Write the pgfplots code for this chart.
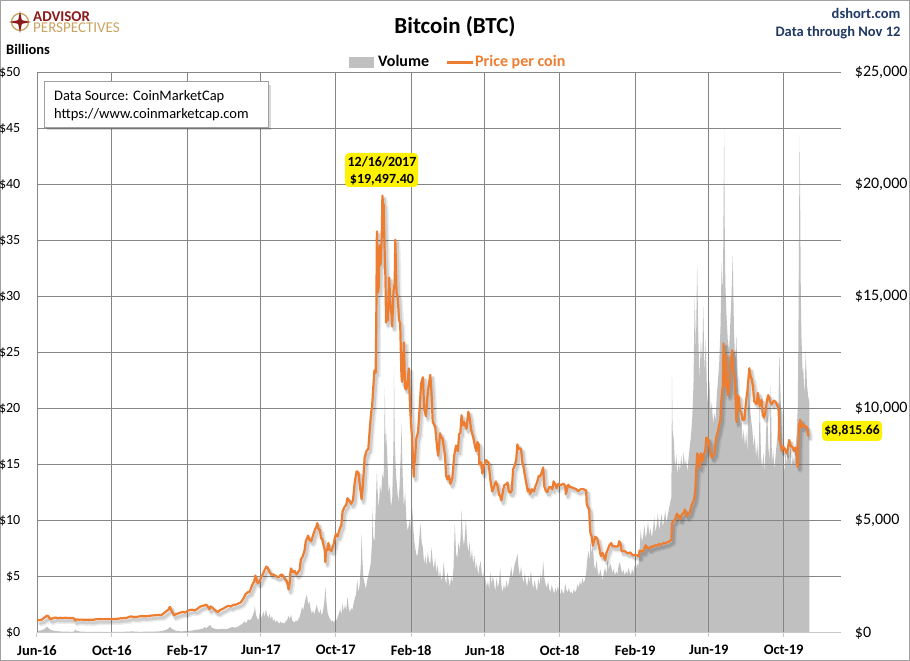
\documentclass[border=0pt]{standalone}
\usepackage{fontspec}
\setmainfont{Carlito}
\usepackage{pgfplots}
\usepackage{pgfplotstable}
\pgfplotsset{compat=1.18}
\definecolor{btcorange}{HTML}{ED7D31}
\definecolor{volgray}{HTML}{C0C0C0}
\definecolor{gridgray}{HTML}{868686}
\definecolor{axgray}{HTML}{C8C8C8}
\definecolor{navy}{HTML}{1F3864}
\definecolor{logored}{HTML}{8B1A1A}
\definecolor{loggold}{HTML}{C8A45E}
\definecolor{framegray}{HTML}{A0A0A0}

\pgfplotstableread[row sep=\\]{
d v\\
0 0.15\\ 6 0.2\\ 11 0.3\\ 14 0.4\\ 16 0.55\\ 18 0.45\\ 21 0.3\\ 25 0.2\\ 30 0.15\\ 36 0.12\\ 42 0.1\\ 50 0.09\\ 58 0.08\\ 61 0.12\\ 62 0.3\\ 64 0.18\\ 70 0.1\\ 80 0.08\\ 90 0.07\\ 100 0.07\\ 110 0.07\\ 120 0.06\\ 130 0.07\\ 140 0.08\\ 150 0.1\\ 155 0.12\\ 160 0.09\\ 170 0.08\\ 180 0.1\\ 190 0.1\\ 200 0.12\\ 206 0.18\\ 210 0.25\\ 214 0.35\\ 216 0.5\\ 218 0.45\\ 220 0.35\\ 223 0.25\\ 228 0.15\\ 235 0.12\\ 245 0.15\\ 252 0.18\\ 258 0.25\\ 265 0.3\\ 270 0.35\\ 273 0.5\\ 276 0.4\\ 280 0.6\\ 282 0.7\\ 285 0.45\\ 290 0.35\\ 296 0.3\\ 302 0.35\\ 308 0.3\\ 313 0.4\\ 318 0.5\\ 323 0.45\\ 328 0.55\\ 332 0.7\\ 335 0.8\\ 338 1.0\\ 341 0.85\\ 344 1.2\\ 347 1.1\\ 350 1.3\\ 352 1.6\\ 354 1.9\\ 355 2.4\\ 357 1.6\\ 359 1.3\\ 361 1.1\\ 363 1.8\\ 365 1.3\\ 367 1.5\\ 369 1.9\\ 371 1.4\\ 373 2.1\\ 375 1.6\\ 377 1.3\\ 379 1.7\\ 381 1.2\\ 383 1.5\\ 385 1.0\\ 387 1.2\\ 389 0.9\\ 391 1.1\\ 393 0.9\\ 395 0.8\\ 397 1.0\\ 399 0.85\\ 401 0.9\\ 403 0.8\\ 405 1.0\\ 407 1.1\\ 409 1.3\\ 410 1.5\\ 412 1.2\\ 414 1.6\\ 416 1.1\\ 418 1.0\\ 420 0.9\\ 422 1.1\\ 424 1.0\\ 426 1.2\\ 428 1.4\\ 430 1.8\\ 432 2.3\\ 434 2.0\\ 436 2.6\\ 438 3.1\\ 440 3.4\\ 442 2.5\\ 444 2.8\\ 446 2.1\\ 448 1.7\\ 450 2.0\\ 452 1.6\\ 454 2.1\\ 456 2.5\\ 458 2.0\\ 460 1.7\\ 462 2.1\\ 464 1.5\\ 466 1.9\\ 468 2.6\\ 469 3.2\\ 470 4.1\\ 472 2.6\\ 474 1.7\\ 476 1.4\\ 478 1.2\\ 480 1.0\\ 482 1.1\\ 484 0.9\\ 486 1.2\\ 488 1.1\\ 490 1.4\\ 492 1.7\\ 494 2.1\\ 496 1.6\\ 498 2.6\\ 500 1.9\\ 502 2.5\\ 504 2.0\\ 506 3.2\\ 508 2.3\\ 510 1.8\\ 512 2.2\\ 514 2.0\\ 516 2.6\\ 518 3.1\\ 520 3.4\\ 522 4.7\\ 524 3.6\\ 526 4.3\\ 528 6.3\\ 529 8.9\\ 530 7.0\\ 532 4.9\\ 534 4.4\\ 536 3.9\\ 538 4.6\\ 540 5.1\\ 542 5.6\\ 544 6.2\\ 546 8.0\\ 547 11.2\\ 548 8.6\\ 550 8.1\\ 552 11.0\\ 554 14.5\\ 555 12.8\\ 557 11.0\\ 559 13.2\\ 561 12.4\\ 563 14.2\\ 565 13.6\\ 567 21.9\\ 568 16.2\\ 569 18.0\\ 571 15.7\\ 573 12.5\\ 575 13.1\\ 577 11.2\\ 579 12.0\\ 581 16.5\\ 582 23.7\\ 583 17.2\\ 585 14.3\\ 587 12.9\\ 589 11.6\\ 591 13.1\\ 593 16.1\\ 594 18.7\\ 596 14.1\\ 598 11.2\\ 600 12.6\\ 602 10.1\\ 604 9.1\\ 606 9.6\\ 608 10.2\\ 610 8.6\\ 612 11.2\\ 613 9.6\\ 615 8.1\\ 617 7.4\\ 619 6.8\\ 621 7.1\\ 623 8.3\\ 625 9.8\\ 627 8.1\\ 629 7.6\\ 631 6.1\\ 633 6.9\\ 635 5.9\\ 637 7.2\\ 639 6.4\\ 641 6.1\\ 643 7.6\\ 645 6.3\\ 647 5.7\\ 649 6.7\\ 651 5.3\\ 653 6.1\\ 655 4.8\\ 657 5.6\\ 659 4.6\\ 661 5.1\\ 663 6.3\\ 665 4.9\\ 667 4.3\\ 669 5.4\\ 671 4.7\\ 673 4.1\\ 675 5.1\\ 677 4.4\\ 679 5.9\\ 681 9.8\\ 683 7.1\\ 685 6.6\\ 687 8.1\\ 689 7.3\\ 691 9.1\\ 692 11.0\\ 694 8.6\\ 696 7.7\\ 698 9.1\\ 699 10.2\\ 701 8.2\\ 703 7.1\\ 705 8.1\\ 707 6.5\\ 709 7.4\\ 711 6.1\\ 713 6.9\\ 715 5.6\\ 717 6.3\\ 719 5.1\\ 721 5.9\\ 723 6.4\\ 725 5.3\\ 727 4.9\\ 729 5.7\\ 731 4.7\\ 733 4.1\\ 735 4.6\\ 737 3.9\\ 739 5.4\\ 741 4.3\\ 743 5.1\\ 745 4.4\\ 747 3.7\\ 749 4.9\\ 751 4.0\\ 753 4.5\\ 755 5.7\\ 757 4.2\\ 759 3.6\\ 761 4.3\\ 763 3.8\\ 765 4.7\\ 767 4.0\\ 769 4.5\\ 771 5.1\\ 773 5.9\\ 775 4.9\\ 777 5.6\\ 779 6.2\\ 781 6.5\\ 783 7.1\\ 785 5.8\\ 787 5.1\\ 789 5.9\\ 791 5.0\\ 793 4.4\\ 795 5.3\\ 797 4.6\\ 799 4.1\\ 801 5.0\\ 803 4.4\\ 805 5.5\\ 807 4.5\\ 809 3.9\\ 811 4.7\\ 813 4.1\\ 815 3.7\\ 817 4.8\\ 819 4.2\\ 821 5.3\\ 823 4.6\\ 825 6.4\\ 827 4.9\\ 829 4.3\\ 831 4.0\\ 833 4.6\\ 835 3.9\\ 837 3.6\\ 839 4.3\\ 841 3.8\\ 843 3.5\\ 845 4.0\\ 847 3.6\\ 849 4.2\\ 851 3.7\\ 853 3.4\\ 855 3.9\\ 857 3.6\\ 859 3.5\\ 861 4.4\\ 863 3.8\\ 865 3.6\\ 867 4.0\\ 869 3.5\\ 871 3.7\\ 873 3.4\\ 875 3.9\\ 877 3.6\\ 879 3.8\\ 881 4.3\\ 883 4.0\\ 885 4.6\\ 887 4.2\\ 889 4.9\\ 891 4.4\\ 893 4.7\\ 895 5.3\\ 897 6.6\\ 899 7.3\\ 901 6.4\\ 902 8.3\\ 904 7.1\\ 906 7.8\\ 908 6.1\\ 910 5.6\\ 912 6.5\\ 914 5.5\\ 916 5.0\\ 918 5.7\\ 920 5.1\\ 922 4.7\\ 924 5.4\\ 926 5.8\\ 928 5.2\\ 930 6.5\\ 932 5.6\\ 934 6.2\\ 936 5.9\\ 938 5.3\\ 940 5.7\\ 942 5.1\\ 944 5.5\\ 946 5.2\\ 948 6.0\\ 950 6.3\\ 952 5.7\\ 954 5.3\\ 956 5.6\\ 958 5.1\\ 960 5.5\\ 962 5.2\\ 964 5.8\\ 966 5.4\\ 968 5.1\\ 970 5.7\\ 972 5.3\\ 974 6.0\\ 976 5.5\\ 978 6.2\\ 980 5.9\\ 982 7.1\\ 984 9.2\\ 986 8.1\\ 988 8.6\\ 990 9.6\\ 992 8.4\\ 994 9.0\\ 996 9.9\\ 998 8.7\\ 1000 9.3\\ 1002 8.5\\ 1004 9.1\\ 1006 10.3\\ 1008 8.9\\ 1010 9.6\\ 1012 10.7\\ 1014 9.1\\ 1016 9.9\\ 1018 10.6\\ 1020 9.4\\ 1022 10.1\\ 1024 10.9\\ 1026 9.7\\ 1028 10.5\\ 1030 11.0\\ 1032 11.6\\ 1034 12.1\\ 1035 22.8\\ 1036 18.1\\ 1038 17.2\\ 1040 14.6\\ 1042 15.9\\ 1044 14.1\\ 1046 15.3\\ 1048 14.4\\ 1050 15.8\\ 1052 14.7\\ 1054 16.1\\ 1056 14.9\\ 1058 15.5\\ 1060 14.3\\ 1062 15.6\\ 1064 16.6\\ 1066 17.6\\ 1068 19.1\\ 1070 22.1\\ 1072 30.0\\ 1074 25.1\\ 1076 33.0\\ 1078 26.1\\ 1080 22.6\\ 1082 26.1\\ 1084 24.1\\ 1086 29.1\\ 1088 23.1\\ 1090 26.1\\ 1092 21.6\\ 1094 20.1\\ 1096 22.6\\ 1098 19.6\\ 1100 20.6\\ 1102 18.6\\ 1104 19.6\\ 1106 18.9\\ 1108 21.1\\ 1110 22.6\\ 1112 24.1\\ 1114 27.1\\ 1116 33.1\\ 1118 30.1\\ 1120 45.0\\ 1121 36.1\\ 1122 31.1\\ 1124 28.1\\ 1126 26.1\\ 1128 25.1\\ 1130 27.6\\ 1132 30.1\\ 1134 33.7\\ 1136 27.1\\ 1138 24.1\\ 1140 26.6\\ 1142 22.1\\ 1144 20.6\\ 1146 18.6\\ 1148 19.6\\ 1150 17.1\\ 1152 18.1\\ 1154 16.6\\ 1156 17.9\\ 1158 16.1\\ 1160 22.5\\ 1162 20.0\\ 1164 19.0\\ 1166 18.1\\ 1168 16.6\\ 1170 17.6\\ 1172 15.6\\ 1174 16.9\\ 1176 15.1\\ 1178 21.0\\ 1180 15.9\\ 1182 14.6\\ 1184 16.1\\ 1186 14.3\\ 1188 17.1\\ 1190 20.6\\ 1192 16.6\\ 1194 15.3\\ 1196 22.0\\ 1198 15.1\\ 1200 16.3\\ 1202 14.5\\ 1204 15.9\\ 1206 17.1\\ 1208 18.6\\ 1210 25.0\\ 1212 21.1\\ 1214 17.6\\ 1216 15.6\\ 1218 14.3\\ 1220 16.1\\ 1222 14.9\\ 1224 17.3\\ 1226 15.1\\ 1228 16.6\\ 1230 14.7\\ 1232 15.9\\ 1234 15.1\\ 1236 16.3\\ 1238 17.6\\ 1240 20.1\\ 1241 26.1\\ 1242 35.0\\ 1243 44.4\\ 1244 38.1\\ 1245 30.1\\ 1246 26.4\\ 1248 23.1\\ 1249 23.6\\ 1251 21.1\\ 1253 25.1\\ 1255 22.1\\ 1257 21.1\\ 1259 20.5\\
}\voltable

\pgfplotstableread[row sep=\\]{
d p\\
0 535\\ 4 570\\ 8 580\\ 11 660\\ 14 700\\ 16 760\\ 18 750\\ 20 665\\ 22 600\\ 24 630\\ 27 650\\ 30 675\\ 34 655\\ 38 665\\ 42 650\\ 46 665\\ 50 660\\ 54 655\\ 58 655\\ 61 625\\ 62 550\\ 65 590\\ 69 580\\ 73 585\\ 77 575\\ 81 580\\ 86 575\\ 92 575\\ 96 600\\ 101 610\\ 106 605\\ 111 605\\ 116 610\\ 122 615\\ 127 615\\ 132 620\\ 136 640\\ 141 650\\ 146 660\\ 150 700\\ 153 730\\ 156 710\\ 160 700\\ 164 710\\ 168 735\\ 172 740\\ 176 730\\ 180 740\\ 183 750\\ 188 770\\ 193 780\\ 198 790\\ 203 790\\ 205 830\\ 208 895\\ 211 960\\ 213 1000\\ 214 1020\\ 216 1130\\ 217 1150\\ 219 1000\\ 221 900\\ 223 780\\ 226 820\\ 230 860\\ 234 900\\ 238 920\\ 242 900\\ 245 970\\ 249 1010\\ 253 1030\\ 257 1000\\ 261 1050\\ 265 1150\\ 269 1190\\ 273 1220\\ 276 1250\\ 279 1150\\ 281 1050\\ 283 1170\\ 286 1120\\ 289 1040\\ 292 960\\ 295 930\\ 298 1000\\ 301 1040\\ 304 1080\\ 308 1150\\ 312 1200\\ 316 1170\\ 320 1240\\ 324 1250\\ 328 1300\\ 332 1350\\ 334 1420\\ 337 1550\\ 340 1720\\ 343 1800\\ 346 1800\\ 349 2000\\ 352 2200\\ 354 2280\\ 356 2550\\ 358 2350\\ 360 2200\\ 363 2300\\ 365 2450\\ 368 2600\\ 371 2800\\ 374 2950\\ 376 2900\\ 379 2700\\ 382 2600\\ 385 2600\\ 388 2550\\ 391 2500\\ 395 2500\\ 398 2600\\ 401 2550\\ 404 2400\\ 407 2300\\ 409 2100\\ 410 1930\\ 412 2250\\ 413 2670\\ 414 2870\\ 417 2700\\ 420 2750\\ 423 2600\\ 426 2720\\ 428 2800\\ 430 3250\\ 433 3400\\ 436 3650\\ 438 4070\\ 440 4200\\ 442 4330\\ 444 4150\\ 447 4080\\ 450 4350\\ 453 4600\\ 455 4700\\ 457 4890\\ 459 4600\\ 461 4600\\ 463 4200\\ 465 4200\\ 467 3900\\ 469 3700\\ 470 3150\\ 471 3640\\ 473 3700\\ 475 4000\\ 477 3700\\ 480 3650\\ 483 3900\\ 487 4400\\ 490 4300\\ 493 4600\\ 496 4800\\ 498 5400\\ 501 5600\\ 504 5700\\ 506 6000\\ 509 5900\\ 512 5750\\ 515 5900\\ 518 6740\\ 521 7200\\ 524 7140\\ 527 6400\\ 529 5950\\ 531 6500\\ 534 7800\\ 537 8100\\ 540 8200\\ 543 9300\\ 545 9900\\ 546 10000\\ 548 10900\\ 550 11700\\ 552 11600\\ 553 13800\\ 554 17900\\ 555 16570\\ 556 15180\\ 557 15450\\ 558 16900\\ 559 17280\\ 560 16400\\ 562 17760\\ 563 19497\\ 564 19140\\ 565 19110\\ 566 17780\\ 567 16620\\ 568 15800\\ 569 13830\\ 570 14700\\ 572 13930\\ 574 15840\\ 576 14640\\ 578 14160\\ 579 13660\\ 581 15200\\ 583 15600\\ 584 17530\\ 585 16480\\ 586 15170\\ 588 14970\\ 590 13980\\ 592 13770\\ 594 11490\\ 595 11190\\ 596 11470\\ 598 12950\\ 600 10900\\ 602 10850\\ 604 11170\\ 606 11790\\ 608 10110\\ 610 9170\\ 611 8830\\ 612 8200\\ 614 6955\\ 615 7750\\ 616 7600\\ 618 8620\\ 621 8930\\ 624 10170\\ 626 11110\\ 629 11400\\ 631 10000\\ 634 9660\\ 636 10400\\ 638 10950\\ 641 11500\\ 643 10700\\ 645 9400\\ 647 9300\\ 649 9200\\ 652 8270\\ 654 7890\\ 657 8900\\ 659 8700\\ 661 8670\\ 663 8300\\ 665 7880\\ 667 6970\\ 669 6840\\ 671 7000\\ 674 6640\\ 677 6900\\ 680 7900\\ 683 8350\\ 686 8100\\ 688 8860\\ 690 8900\\ 692 9700\\ 694 9250\\ 696 9400\\ 698 9240\\ 700 9100\\ 703 9860\\ 705 9600\\ 708 9000\\ 711 8720\\ 714 8300\\ 716 8100\\ 718 8500\\ 720 8400\\ 721 7500\\ 724 7600\\ 726 7100\\ 728 7400\\ 730 7540\\ 732 7700\\ 734 7630\\ 736 7600\\ 739 6790\\ 742 6300\\ 745 6500\\ 748 6750\\ 751 6500\\ 753 6150\\ 755 6100\\ 757 5900\\ 760 6390\\ 762 6600\\ 764 6600\\ 767 6700\\ 769 6300\\ 772 6250\\ 774 6360\\ 776 7300\\ 778 7400\\ 781 7700\\ 783 8400\\ 785 8200\\ 787 8220\\ 789 8200\\ 791 7600\\ 793 7400\\ 795 7040\\ 798 6600\\ 800 6300\\ 802 6400\\ 804 6200\\ 807 6400\\ 810 6300\\ 812 6500\\ 815 6700\\ 818 7000\\ 820 6970\\ 822 7100\\ 825 7370\\ 827 6500\\ 830 6300\\ 832 6280\\ 835 6500\\ 837 6500\\ 840 6400\\ 842 6750\\ 845 6600\\ 847 6450\\ 850 6650\\ 852 6590\\ 855 6600\\ 858 6650\\ 861 6550\\ 862 6190\\ 864 6400\\ 866 6600\\ 869 6500\\ 871 6490\\ 875 6450\\ 879 6400\\ 882 6320\\ 887 6410\\ 891 6400\\ 895 6350\\ 896 5740\\ 898 5600\\ 900 5500\\ 901 4870\\ 902 4450\\ 904 4300\\ 906 3880\\ 907 4010\\ 910 4280\\ 913 4210\\ 916 3850\\ 919 3420\\ 922 3550\\ 924 3400\\ 926 3240\\ 928 3550\\ 931 3750\\ 933 3900\\ 936 4000\\ 938 3850\\ 940 3860\\ 944 3840\\ 947 3850\\ 949 4080\\ 951 4000\\ 953 3630\\ 956 3650\\ 959 3620\\ 963 3540\\ 967 3580\\ 971 3450\\ 975 3470\\ 978 3450\\ 981 3400\\ 982 3660\\ 985 3640\\ 988 3620\\ 992 3900\\ 995 3800\\ 998 3750\\ 1001 3850\\ 1003 3820\\ 1007 3900\\ 1010 3880\\ 1014 3950\\ 1017 3920\\ 1021 4000\\ 1025 4000\\ 1029 4050\\ 1032 4100\\ 1034 4150\\ 1035 4880\\ 1037 4950\\ 1040 5050\\ 1043 5310\\ 1046 5200\\ 1048 5050\\ 1051 5270\\ 1054 5350\\ 1056 5500\\ 1059 5200\\ 1062 5300\\ 1064 5350\\ 1067 5700\\ 1069 5800\\ 1071 5950\\ 1073 6350\\ 1074 7000\\ 1076 8000\\ 1077 7950\\ 1079 7700\\ 1080 7360\\ 1082 8000\\ 1085 7650\\ 1087 8000\\ 1089 8050\\ 1091 8700\\ 1093 8660\\ 1095 8550\\ 1097 8100\\ 1100 7800\\ 1102 7900\\ 1104 8000\\ 1107 8700\\ 1110 8990\\ 1112 9300\\ 1114 9500\\ 1115 10200\\ 1117 10850\\ 1118 11000\\ 1119 12900\\ 1120 11900\\ 1121 11000\\ 1123 12400\\ 1124 11300\\ 1126 10600\\ 1128 10800\\ 1130 11900\\ 1133 12600\\ 1135 11700\\ 1137 11400\\ 1139 10200\\ 1140 9400\\ 1142 10600\\ 1144 10500\\ 1146 9900\\ 1148 9800\\ 1150 9500\\ 1153 9500\\ 1156 10400\\ 1158 10800\\ 1161 11800\\ 1163 11450\\ 1165 11300\\ 1167 11000\\ 1169 10300\\ 1170 10300\\ 1173 10200\\ 1175 10700\\ 1178 10100\\ 1181 10400\\ 1183 9700\\ 1185 9600\\ 1187 9800\\ 1190 10400\\ 1192 10600\\ 1195 10300\\ 1198 10200\\ 1201 10350\\ 1204 10300\\ 1207 10100\\ 1209 9900\\ 1210 8600\\ 1212 8400\\ 1214 8100\\ 1216 8300\\ 1219 8200\\ 1222 7990\\ 1224 8200\\ 1226 8600\\ 1229 8300\\ 1231 8300\\ 1234 8100\\ 1236 8250\\ 1238 8250\\ 1239 7500\\ 1240 7400\\ 1241 8650\\ 1242 9250\\ 1244 9500\\ 1246 9150\\ 1248 9200\\ 1249 9300\\ 1251 9200\\ 1254 9200\\ 1256 9000\\ 1257 8800\\ 1259 8815\\
}\pricetable

\begin{document}
\begin{tikzpicture}
\useasboundingbox (-37pt,-28.3pt) rectangle (873pt,632.7pt);
\draw[framegray, line width=1pt] (-36.5pt,-27.8pt) rectangle (872.5pt,632.2pt);

\begin{axis}[
  at={(0pt,0pt)}, anchor=south west,
  scale only axis, width=803.7pt, height=560.4pt,
  xmin=0, xmax=1310, ymin=0, ymax=50,
  axis on top,
  axis x line*=bottom, axis y line*=left,
  x axis line style={-, draw=axgray, line width=1pt},
  y axis line style={draw=none},
  xtick={0,122,245,365,487,610,730,852,975,1095,1217},
  xticklabels={Jun-16,Oct-16,Feb-17,Jun-17,Oct-17,Feb-18,Jun-18,Oct-18,Feb-19,Jun-19,Oct-19},
  ytick={0,5,...,50},
  grid=major, grid style={draw=gridgray, line width=0.9pt},
  ytick style={draw=none},
  xtick style={draw=axgray, line width=1pt},
  tick align=outside, major tick length=4pt,
  /pgf/number format/assume math mode=true,
  yticklabel={\$\pgfmathprintnumber{\tick}},
  yticklabel style={font=\fontsize{14}{16}\selectfont, inner sep=0pt, xshift=-12.5pt},
  xticklabel style={font=\bfseries\fontsize{14.5}{16}\selectfont, yshift=-5pt},
]
\addplot[fill=volgray, draw=none, mark=none] table[x=d,y=v]{\voltable} \closedcycle;
\end{axis}

\begin{axis}[
  at={(0pt,0pt)}, anchor=south west,
  scale only axis, width=803.7pt, height=560.4pt,
  xmin=0, xmax=1310, ymin=0, ymax=25000,
  axis x line=none, xtick=\empty,
  axis y line*=right, y axis line style={draw=none},
  ytick={0,5000,...,25000}, ytick style={draw=none}, major tick length=0pt,
  scaled y ticks=false,
  /pgf/number format/1000 sep={,},
  /pgf/number format/assume math mode=true,
  yticklabel={\$\pgfmathprintnumber{\tick}},
  yticklabel style={font=\fontsize{16}{18}\selectfont, anchor=west, inner sep=0pt, xshift=14pt},
  clip=false,
]
\addplot[black, opacity=0.08, line width=5pt, line join=round, mark=none, xshift=2.5pt, yshift=-3.5pt] table[x=d,y=p]{\pricetable};
\addplot[black, opacity=0.12, line width=3pt, line join=round, mark=none, xshift=2pt, yshift=-3pt] table[x=d,y=p]{\pricetable};
\addplot[btcorange, line width=2.2pt, line join=round, mark=none] table[x=d,y=p]{\pricetable};
\end{axis}

% logo
\draw[loggold, line width=1.3pt] (-17pt,610.7pt) circle (8.5pt);
\fill[logored] (-17pt,621.5pt) -- (-15.2pt,612.5pt) -- (-6.2pt,610.7pt) -- (-15.2pt,608.9pt) -- (-17pt,599.9pt) -- (-18.8pt,608.9pt) -- (-27.8pt,610.7pt) -- (-18.8pt,612.5pt) -- cycle;
\fill[logored] (-17pt,610.7pt) circle (3pt);
\node[anchor=north west, align=left, inner sep=0pt, font=\fontsize{15}{10.7}\selectfont] at (-4pt,621.2pt) {\textcolor{logored}{\bfseries ADVISOR}\\\textcolor{loggold}{PERSPECTIVES}};

% titles
\node[anchor=base, inner sep=0pt, font=\bfseries\fontsize{23}{26}\selectfont] at (418pt,599.4pt) {Bitcoin (BTC)};
\node[anchor=base east, inner sep=0pt, text=navy, font=\bfseries\fontsize{14.5}{17}\selectfont] at (863.7pt,614.4pt) {dshort.com};
\node[anchor=base east, inner sep=0pt, text=navy, font=\bfseries\fontsize{14.5}{17}\selectfont] at (863.7pt,596pt) {Data through Nov 12};
\node[anchor=base west, inner sep=0pt, font=\bfseries\fontsize{14.5}{17}\selectfont] at (-31pt,577.7pt) {Billions};

% legend
\fill[volgray] (312pt,564.7pt) rectangle (337pt,575.4pt);
\node[anchor=base west, inner sep=0pt, font=\bfseries\fontsize{16}{18}\selectfont] at (341pt,566pt) {Volume};
\draw[btcorange, line width=2.5pt] (410pt,570.2pt) -- (436pt,570.2pt);
\node[anchor=base west, inner sep=0pt, text=btcorange, font=\bfseries\fontsize{16}{18}\selectfont] at (438pt,566pt) {Price per coin};

% data source box
\fill[black, opacity=0.15] (10.3pt,502.4pt) rectangle (234.3pt,548pt);
\draw[draw=framegray, fill=white, line width=0.8pt] (7.3pt,505.4pt) rectangle (231.3pt,551pt);
\node[anchor=base west, inner sep=0pt, font=\fontsize{14.5}{17}\selectfont] at (17pt,532pt) {Data Source: CoinMarketCap};
\node[anchor=base west, inner sep=0pt, font=\fontsize{14.5}{17}\selectfont] at (17pt,514.4pt) {https://www.coinmarketcap.com};

% annotations
\fill[yellow, rounded corners=4pt] (308pt,445.7pt) rectangle (381pt,479.7pt);
\node[anchor=base, inner sep=0pt, font=\bfseries\fontsize{14}{16}\selectfont] at (345pt,466pt) {12/16/2017};
\node[anchor=base, inner sep=0pt, font=\bfseries\fontsize{14}{16}\selectfont] at (345pt,449.4pt) {\$19,497.40};
\fill[yellow, rounded corners=4pt] (785pt,191.7pt) rectangle (845pt,211.7pt);
\node[anchor=base, inner sep=0pt, font=\bfseries\fontsize{13.6}{16}\selectfont] at (815pt,197.7pt) {\$8,815.66};
\end{tikzpicture}
\end{document}
